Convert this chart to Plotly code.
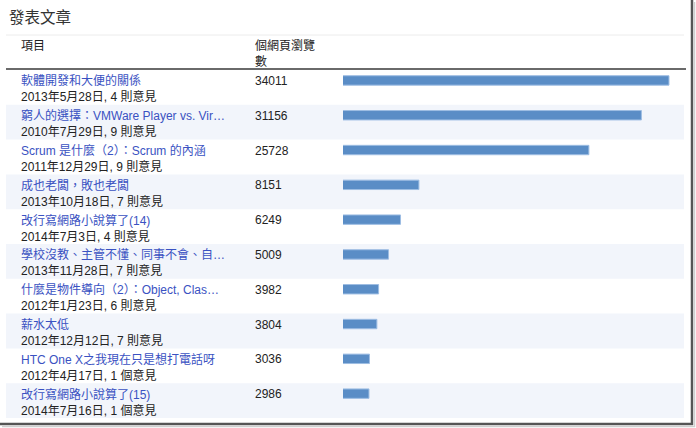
import plotly.graph_objects as go

W, H = 696, 428

titles = [
    "軟體開發和大便的關係",
    "窮人的選擇：VMWare Player vs. Vir…",
    "Scrum 是什麼（2）：Scrum 的內涵",
    "成也老闆，敗也老闆",
    "改行寫網路小說算了(14)",
    "學校沒教、主管不懂、同事不會、自…",
    "什麼是物件導向（2）：Object, Clas…",
    "薪水太低",
    "HTC One X之我現在只是想打電話呀",
    "改行寫網路小說算了(15)",
]
subtitles = [
    "2013年5月28日, 4 則意見",
    "2010年7月29日, 9 則意見",
    "2011年12月29日, 9 則意見",
    "2013年10月18日, 7 則意見",
    "2014年7月3日, 4 則意見",
    "2013年11月28日, 7 則意見",
    "2012年1月23日, 6 則意見",
    "2012年12月12日, 7 則意見",
    "2012年4月17日, 1 個意見",
    "2014年7月16日, 1 個意見",
]
views = [34011, 31156, 25728, 8151, 6249, 5009, 3982, 3804, 3036, 2986]

chart_title = "發表文章"
header_item = "項目"
header_views = "個網頁瀏覽<br>數"

FONT = "Liberation Sans, Arial, Noto Sans CJK TC, sans-serif"
LINK = "#3a52c2"
TXT = "#222222"

def px(x):
    return x / W

def py(y):
    return 1 - y / H

rows = list(range(len(views)))
row_top, row_bot = 70, 418

fig = go.Figure()
fig.add_trace(go.Bar(
    x=views, y=rows, orientation="h",
    width=0.27, offset=-0.335,
    marker=dict(color="#5a8dc6", line=dict(color="#9dbde3", width=1)),
    hoverinfo="x",
))

shapes = []
# striped row backgrounds
for i in rows:
    if i % 2 == 1:
        shapes.append(dict(type="rect", xref="paper", yref="y",
                           x0=px(6), x1=px(684), y0=i - 0.5, y1=i + 0.5,
                           fillcolor="#f2f5fb", line=dict(width=0), layer="below"))
# top light line
shapes.append(dict(type="line", xref="paper", yref="paper",
                   x0=px(6), x1=px(684), y0=py(35), y1=py(35),
                   line=dict(color="#ececec", width=1)))
# header dark line
shapes.append(dict(type="line", xref="paper", yref="paper",
                   x0=px(6), x1=px(686), y0=py(69), y1=py(69),
                   line=dict(color="#6a6a6a", width=2)))
# frame shadow right & bottom
shapes.append(dict(type="line", xref="paper", yref="paper",
                   x0=px(692), x1=px(692), y0=py(0), y1=py(425),
                   line=dict(color="#555555", width=2.5)))
shapes.append(dict(type="line", xref="paper", yref="paper",
                   x0=px(0), x1=px(693), y0=py(424), y1=py(424),
                   line=dict(color="#555555", width=2.5)))
shapes.append(dict(type="line", xref="paper", yref="paper",
                   x0=px(694.5), x1=px(694.5), y0=py(2), y1=py(427),
                   line=dict(color="#cfcfcf", width=1.5)))
shapes.append(dict(type="line", xref="paper", yref="paper",
                   x0=px(2), x1=px(695), y0=py(426.5), y1=py(426.5),
                   line=dict(color="#cfcfcf", width=1.5)))

annotations = [
    dict(text=chart_title, xref="paper", yref="paper", x=px(7), y=py(17),
         xanchor="left", yanchor="middle", showarrow=False,
         font=dict(family=FONT, size=15.5, color="#333333")),
    dict(text=header_item, xref="paper", yref="paper", x=px(19), y=py(46),
         xanchor="left", yanchor="middle", showarrow=False,
         font=dict(family=FONT, size=12, color=TXT)),
    dict(text=header_views, xref="paper", yref="paper", x=px(253), y=py(54),
         xanchor="left", yanchor="middle", align="left", showarrow=False,
         font=dict(family=FONT, size=12, color=TXT)),
]
for i in rows:
    annotations.append(dict(text=titles[i], xref="paper", yref="y", x=px(19), y=i,
                            yshift=6.5, xanchor="left", yanchor="middle", showarrow=False,
                            font=dict(family=FONT, size=12, color=LINK)))
    annotations.append(dict(text=subtitles[i], xref="paper", yref="y", x=px(19), y=i,
                            yshift=-9.5, xanchor="left", yanchor="middle", showarrow=False,
                            font=dict(family=FONT, size=12, color=TXT)))
    annotations.append(dict(text=str(views[i]), xref="paper", yref="y", x=px(253), y=i,
                            yshift=6.5, xanchor="left", yanchor="middle", showarrow=False,
                            font=dict(family=FONT, size=12, color=TXT)))

fig.update_layout(
    width=W, height=H,
    margin=dict(l=0, r=0, t=0, b=0),
    paper_bgcolor="white", plot_bgcolor="rgba(0,0,0,0)",
    showlegend=False,
    shapes=shapes, annotations=annotations,
    xaxis=dict(domain=[px(343), px(684)], range=[300, 35564],
               showgrid=False, zeroline=False, showticklabels=False, fixedrange=True),
    yaxis=dict(domain=[py(row_bot), py(row_top)], range=[len(views) - 0.5, -0.5],
               showgrid=False, zeroline=False, showticklabels=False, fixedrange=True),
)

fig.write_html("out.html", config={"displayModeBar": False})
